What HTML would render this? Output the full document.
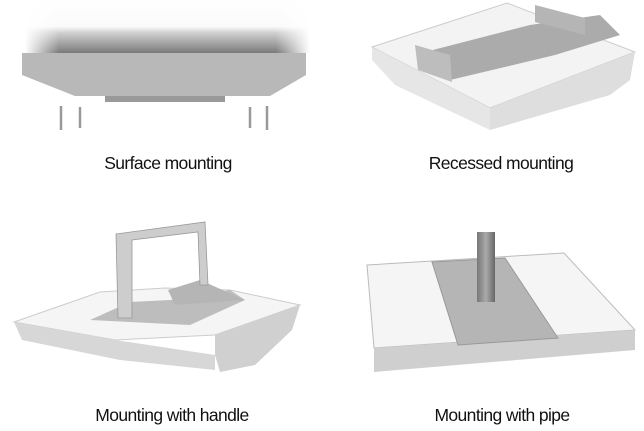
<!DOCTYPE html>
<html><head><meta charset="utf-8"><style>
html,body{margin:0;padding:0;background:#fff;}
body{width:644px;height:431px;position:relative;overflow:hidden;font-family:"Liberation Sans",sans-serif;}
.l{position:absolute;font-size:17.5px;color:#111;letter-spacing:-0.6px;white-space:nowrap;transform:translateX(-50%);}
svg{position:absolute;left:0;top:0;}
</style></head><body>
<svg width="644" height="431" viewBox="0 0 644 431">
<defs>
<linearGradient id="g1" x1="0" y1="0" x2="0" y2="1"><stop offset="0" stop-color="#fff"/><stop offset="0.5" stop-color="#fafafa"/><stop offset="0.62" stop-color="#d0d0d0"/><stop offset="1" stop-color="#7a7a7a"/></linearGradient>
<linearGradient id="gh" x1="0" y1="0" x2="1" y2="0"><stop offset="0" stop-color="#fff" stop-opacity="1"/><stop offset="0.12" stop-color="#fff" stop-opacity="0"/><stop offset="0.88" stop-color="#fff" stop-opacity="0"/><stop offset="1" stop-color="#fff" stop-opacity="1"/></linearGradient>
<linearGradient id="gp" x1="0" y1="0" x2="1" y2="0"><stop offset="0" stop-color="#777"/><stop offset="0.5" stop-color="#aaa"/><stop offset="1" stop-color="#666"/></linearGradient>
</defs>
<!-- surface mounting -->
<rect x="25" y="0" width="285" height="53" fill="url(#g1)"/>
<rect x="25" y="0" width="285" height="53" fill="url(#gh)"/>
<polygon points="22,53 306,53 306,75 270,96 75,96 22,75" fill="#b8b8b8"/>
<rect x="105" y="96" width="120" height="6" fill="#999"/>
<g stroke="#999" stroke-width="2.5"><line x1="61" y1="106" x2="61" y2="130"/><line x1="80" y1="107" x2="80" y2="128"/><line x1="250" y1="107" x2="250" y2="128"/><line x1="267" y1="106" x2="267" y2="130"/></g>
<!-- recessed -->
<polygon points="372,47 507,3 635,52 490,108" fill="#f3f3f3" stroke="#ccc"/>
<polygon points="372,47 490,108 490,130 395,85 372,60" fill="#e6e6e6"/>
<polygon points="490,108 635,52 630,80 610,95 490,130" fill="#dedede"/>
<polygon points="425,52 530,25 600,15 620,35 555,55 450,80" fill="#ababab"/>
<polygon points="415,45 450,55 452,82 418,70" fill="#bdbdbd"/>
<polygon points="535,5 585,18 585,35 535,22" fill="#b5b5b5"/>
<!-- handle -->
<polygon points="14,322 100,292 165,288 230,290 300,305 215,335 115,340" fill="#f5f5f5" stroke="#ccc"/>
<polygon points="14,322 115,340 215,355 215,370 120,360 22,340" fill="#d7d7d7"/>
<polygon points="215,335 300,305 292,330 255,365 220,372 215,355" fill="#d0d0d0"/>
<polygon points="90,320 130,302 170,300 230,290 245,300 190,325" fill="#bdbdbd"/>
<polygon points="168,290 200,280 245,300 175,305" fill="#b5b5b5"/>
<polygon points="116,234 205,222 208,285 200,285 198,232 132,240 132,318 118,318" fill="#cdcdcd" stroke="#999" stroke-width="0.8"/>
<!-- pipe -->
<polygon points="367,265 564,253 635,330 374,348" fill="#f5f5f5" stroke="#bbb"/>
<polygon points="374,348 635,330 635,350 374,372" fill="#cfcfcf"/>
<polygon points="432,262 505,258 558,338 458,345" fill="#b5b5b5" stroke="#999"/>
<rect x="477" y="232" width="18" height="70" fill="url(#gp)"/>
</svg>
<div class="l" style="left:168px;top:153px">Surface mounting</div>
<div class="l" style="left:501px;top:153px">Recessed mounting</div>
<div class="l" style="left:172px;top:405px">Mounting with handle</div>
<div class="l" style="left:502px;top:405px">Mounting with pipe</div>
</body></html>
